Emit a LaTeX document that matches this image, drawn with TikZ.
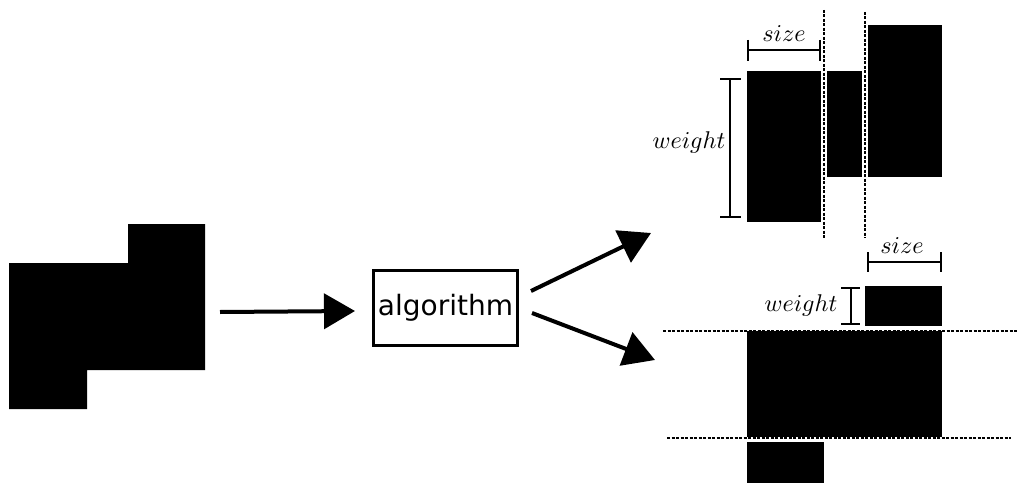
\documentclass[tikz,border=0pt]{standalone}
\usepackage{graphicx}
\usepackage{fontspec}
\newfontfamily\dejavu{DejaVu Sans}
\usetikzlibrary{arrows.meta}
\newcommand{\biglbl}[1]{\scalebox{2.42}{$#1$}}
\begin{document}
\begin{tikzpicture}[x=1pt,y=-1pt,
  blk/.style={fill=black,draw=none},
  bigarrow/.style={line width=4pt,-{Triangle[length=31pt,width=35pt]}},
  sep/.style={line width=1.4pt,dash pattern=on 3pt off 1.5pt},
  dim/.style={line width=1.8pt},
  dimthin/.style={line width=1.3pt},
  lbl/.style={inner sep=0pt, anchor=base}]
\useasboundingbox (0,0) rectangle (1024,489);
% input shape
\fill[blk] (9,263) -- (128,263) -- (128,224) -- (205,224) -- (205,370) -- (87,370) -- (87,409) -- (9,409) -- cycle;
% algorithm box
\node[draw, line width=3pt, minimum width=144pt, minimum height=75pt, inner sep=0pt,
      font=\dejavu\fontsize{28}{32}\selectfont] (alg) at (445.5,308) {algorithm};
% arrows
\coordinate (a1s) at (220,312);
\coordinate (a1e) at (355,311);
\coordinate (a2s) at (531,291);
\coordinate (a2e) at (651,233);
\coordinate (a3s) at (532,313);
\coordinate (a3e) at (655,360);
\draw[bigarrow] (a1s) -- (a1e);
\draw[bigarrow] (a2s) -- (a2e);
\draw[bigarrow] (a3s) -- (a3e);
% top result
\fill[blk] (747,71) rectangle (821,222);
\fill[blk] (827,71) rectangle (862,177);
\fill[blk] (868,25) rectangle (942,177);
\draw[sep] (824,10) -- (824,238);
\draw[sep] (865,12) -- (865,238);
\draw[dim] (748,50) -- (820,50) (748,40) -- (748,61) (820,40) -- (820,61);
\node[lbl] (s1) at (784,42) {\biglbl{size}};
\draw[dim] (730,79) -- (730,217) (720,79) -- (741,79) (720,217) -- (741,217);
\node[lbl] (w1) at (689,149) {\biglbl{weight}};
% bottom result
\draw[dim] (868,262) -- (941,262) (868,252) -- (868,272) (941,252) -- (941,272);
\node[lbl] (s2) at (902,253) {\biglbl{size}};
\fill[blk] (865,286) rectangle (942,326);
\draw[dimthin] (851,288) -- (851,324) (841,288) -- (860,288) (841,324) -- (860,324);
\node[lbl] (w2) at (801,311.5) {\biglbl{weight}};
\draw[sep] (663,331) -- (1017,331);
\draw[sep] (667,438) -- (1011,438);
\fill[blk] (747,331) rectangle (942,437);
\fill[blk] (747,442) rectangle (824,483);
\end{tikzpicture}
\end{document}
